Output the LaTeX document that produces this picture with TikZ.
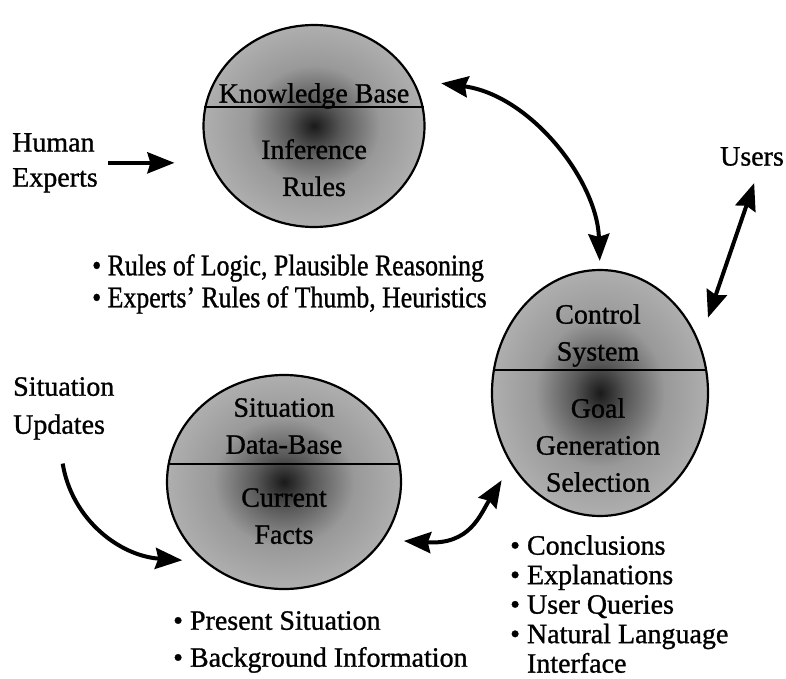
\documentclass[tikz,border=0pt]{standalone}
\usepackage{fontspec}
\setmainfont{Liberation Serif}[FakeBold=1.0]
\newfontfamily\narrowfont{Liberation Serif}[FakeStretch=0.86,FakeBold=1.0]
\usetikzlibrary{arrows.meta,positioning,calc,shapes.geometric}

\pgfdeclareradialshading{orbshade}{\pgfpoint{0bp}{0bp}}{%
  color(0bp)=(black!90); color(6bp)=(black!66); color(15bp)=(black!40);
  color(28bp)=(black!29); color(50bp)=(black!25)}

\tikzset{
  orb/.style={ellipse, draw, line width=2.2pt, inner sep=0pt, shade, shading=orbshade},
  orbtext/.style={inner sep=0pt, align=center, anchor=north, font=\fontsize{28}{37}\selectfont},
  tag/.style={inner sep=0pt, align=left, font=\fontsize{28}{35}\selectfont},
  notes/.style={inner sep=0pt, align=left, anchor=north west},
  divider/.style={line width=2pt},
  flow/.style={line width=4pt, -{Stealth[length=27pt,width=21pt,inset=3pt]}},
  flows/.style={line width=4pt, {Stealth[length=27pt,width=21pt,inset=3pt]}-{Stealth[length=27pt,width=21pt,inset=3pt]}}
}

\begin{document}
\begin{tikzpicture}[x=1pt,y=-1pt]
  \useasboundingbox (0,0) rectangle (786,679);

  % the three orbs
  \node[orb, minimum width=221pt, minimum height=202pt] (kb) at (314,126) {};
  \node[orb, minimum width=216pt, minimum height=246pt] (cs) at (600,393) {};
  \node[orb, minimum width=234pt, minimum height=214pt] (sd) at (284,482) {};

  \draw[divider] (kb.170) -- (kb.10);
  \draw[divider] (cs.168) -- (cs.12);
  \draw[divider] (sd.171) -- (sd.9);

  \node[orbtext] (kbtop) at ($(kb.center)+(0,-43)$) {Knowledge Base};
  \node[orbtext] (kbbot) at ($(kb.center)+(0,13)$) {Inference\\Rules};
  \node[orbtext] (cstop) at ($(cs.center)+(-2,-89)$) {Control\\System};
  \node[orbtext] (csbot) at ($(cs.center)+(-2,5)$) {Goal\\Generation\\Selection};
  \node[orbtext] (sdtop) at ($(sd.center)+(0,-84)$) {Situation\\Data-Base};
  \node[orbtext] (sdbot) at ($(sd.center)+(0,6)$) {Current\\Facts};

  % outside labels
  \node[tag, anchor=north west] (he) at (12,133) {Human\\Experts};
  \node[tag, anchor=north west, font=\fontsize{28}{38}\selectfont] (su) at (13,377) {Situation\\Updates};
  \node[tag, anchor=north] (us) at (752,147) {Users};

  \node[notes, font=\narrowfont\fontsize{30}{32}\selectfont] (kbnotes) at (92,254)
    {• Rules of Logic, Plausible Reasoning\\• Experts’ Rules of Thumb, Heuristics};
  \node[notes, font=\fontsize{28}{37}\selectfont] (sdnotes) at (173,611)
    {• Present Situation\\• Background Information};
  \node[notes, font=\fontsize{28}{29.5}\selectfont] (csnotes) at (510,535)
    {• Conclusions\\• Explanations\\• User Queries\\• Natural Language\\\phantom{• }Interface};

  % arrows
  \draw[flow, shorten <=10pt, shorten >=28pt] (he.east) -- (he.east -| kb.west);
  \draw[flows, shorten <=28pt, shorten >=8pt] (kb.25) .. controls (530,95) and (597,180) .. (cs.north);
  \draw[flows, shorten <=18pt, shorten >=26pt] ([xshift=8pt]us.south) -- (cs.27);
  \draw[flow, shorten <=24pt, shorten >=22pt] ([xshift=-5pt]su.south) .. controls (72,520) and (120,556) .. (sd.225);
  \draw[flows, shorten <=20pt, shorten >=18pt] (sd.-30) .. controls (470,545) and (480,515) .. (cs.219);
\end{tikzpicture}
\end{document}
